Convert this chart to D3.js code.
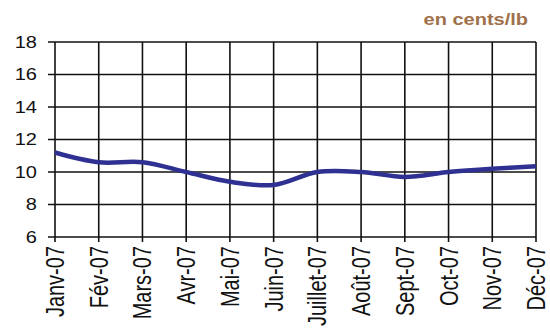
<!DOCTYPE html>
<html>
<head>
<meta charset="utf-8">
<script src="https://cdn.jsdelivr.net/npm/d3@7"></script>
<style>
  html, body { margin: 0; padding: 0; background: #fff; }
  svg { display: block; }
  text { font-family: "Liberation Sans", Arial, sans-serif; }
</style>
</head>
<body>
<svg id="chart" width="550" height="331"></svg>
<script>
// Monthly price, 2007 (cents per pound)
const months = ["Janv-07", "Fév-07", "Mars-07", "Avr-07", "Mai-07", "Juin-07",
                "Juillet-07", "Août-07", "Sept-07", "Oct-07", "Nov-07", "Déc-07"];
const prices = [11.2, 10.6, 10.6, 10.0, 9.4, 9.2, 10.0, 10.0, 9.7, 10.0, 10.2, 10.35];
const yTicks = [6, 8, 10, 12, 14, 16, 18];
const unitLabel = "en cents/lb";

const svg = d3.select("#chart");
const plotLeft = 55, plotRight = 536, plotTop = 42, plotBottom = 237;
const sx = 1.25; // horizontal glyph stretch

const x = d3.scalePoint().domain(months).range([plotLeft, plotRight]);
const y = d3.scaleLinear().domain([6, 18]).range([plotBottom, plotTop]);

const grid = svg.append("g").attr("stroke", "#111").attr("stroke-width", 1.6);

// horizontal gridlines + left tick stubs
grid.selectAll("line.h").data(yTicks).join("line")
  .attr("class", "h")
  .attr("x1", plotLeft - 7).attr("x2", plotRight)
  .attr("y1", d => y(d)).attr("y2", d => y(d));

// vertical gridlines + bottom tick stubs
grid.selectAll("line.v").data(months).join("line")
  .attr("class", "v")
  .attr("x1", d => x(d)).attr("x2", d => x(d))
  .attr("y1", plotTop).attr("y2", plotBottom + 5);

// y tick labels
svg.append("g").selectAll("text").data(yTicks).join("text")
  .attr("transform", d => `translate(37,${y(d)}) scale(${sx},1)`)
  .attr("text-anchor", "end")
  .attr("dy", "0.36em")
  .attr("font-size", 16)
  .attr("fill", "#111")
  .text(d => d);

// x tick labels, rotated
svg.append("g").selectAll("text").data(months).join("text")
  .attr("transform", d => `translate(${x(d)},${plotBottom + 9}) scale(${sx},1) rotate(-90)`)
  .attr("text-anchor", "end")
  .attr("dy", "0.36em")
  .attr("font-size", 20)
  .attr("fill", "#111")
  .text(d => d);

// price line
const line = d3.line()
  .x((d, i) => x(months[i]))
  .y(d => y(d))
  .curve(d3.curveCatmullRom.alpha(0.5));

svg.append("path")
  .datum(prices)
  .attr("fill", "none")
  .attr("stroke", "#2E3192")
  .attr("stroke-width", 4.5)
  .attr("stroke-linejoin", "round")
  .attr("d", line);

// unit label
svg.append("text")
  .attr("transform", `translate(528,25) scale(${sx},1)`)
  .attr("text-anchor", "end")
  .attr("font-size", 16)
  .attr("font-weight", "bold")
  .attr("fill", "#A0704A")
  .text(unitLabel);
</script>
</body>
</html>
